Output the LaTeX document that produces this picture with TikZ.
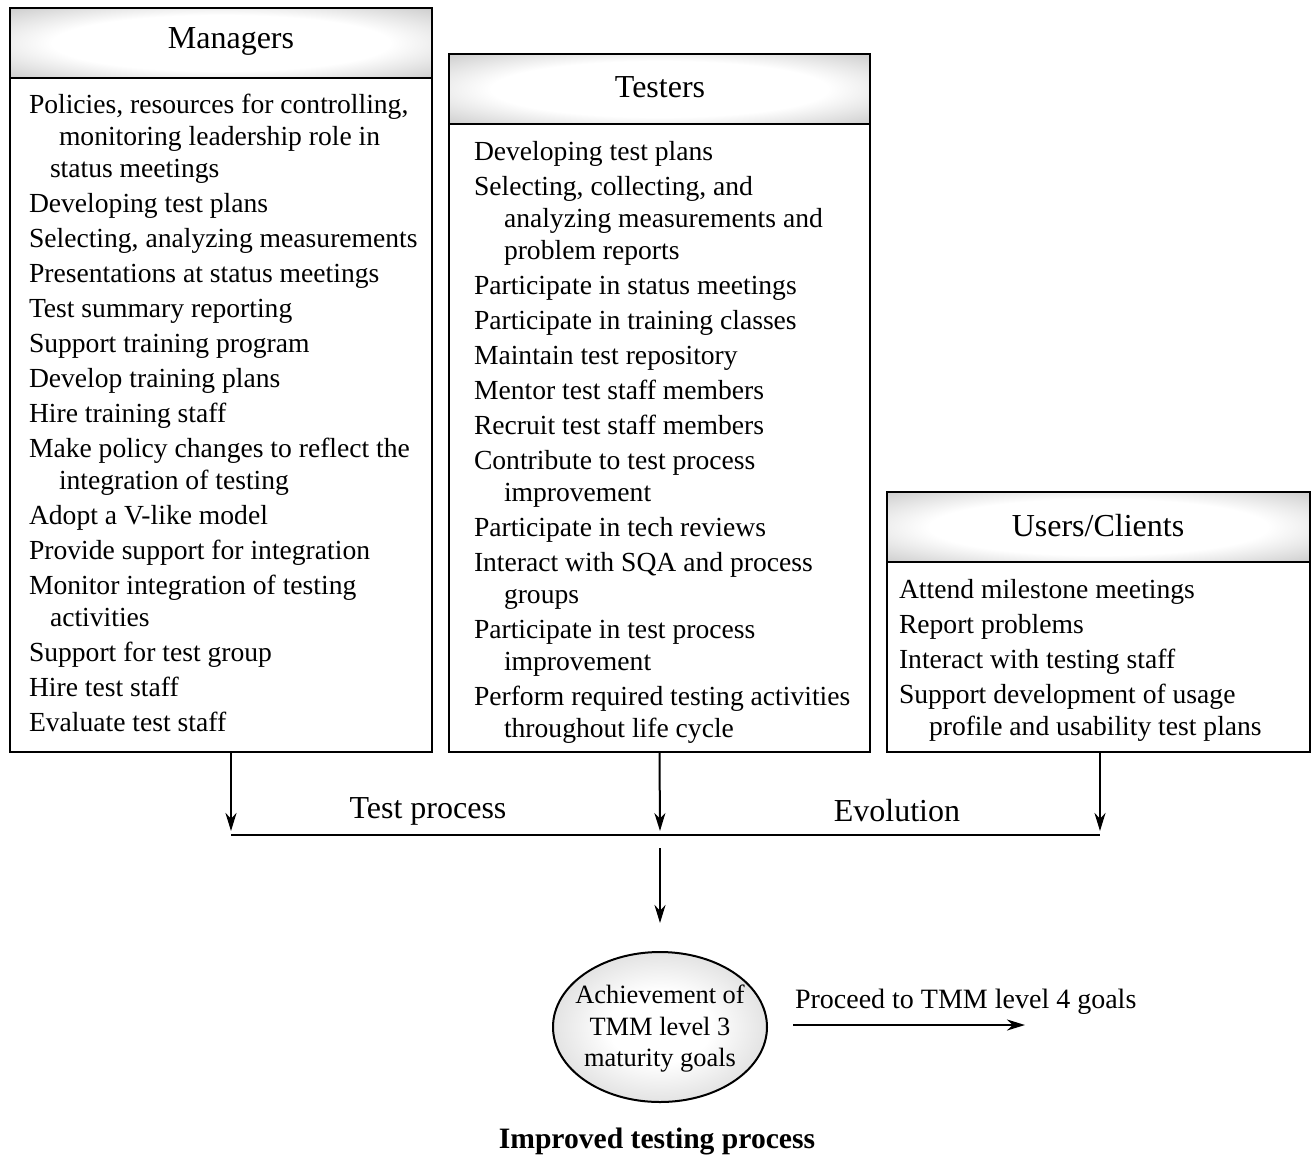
\documentclass[tikz,border=0pt]{standalone}
\usepackage{fontspec}
\setmainfont{Liberation Serif}
\usetikzlibrary{arrows.meta,shapes.geometric,fit}
\colorlet{glowedge}{black!38}
\colorlet{balledge}{black!32}
\pgfdeclareradialshading{headglow}{\pgfpoint{0bp}{0bp}}{color(0bp)=(white); color(20bp)=(white); color(50bp)=(glowedge); color(72bp)=(glowedge)}
\pgfdeclareradialshading{ballglow}{\pgfpoint{0bp}{0bp}}{color(0bp)=(white); color(12bp)=(white); color(50bp)=(balledge); color(72bp)=(balledge)}
\newcommand{\contline}{\hspace*{15pt}}
\newcommand{\shortcont}{\hspace*{10.5pt}}
\begin{document}
\begin{tikzpicture}[x=0.5pt,y=-0.5pt,
  every node/.style={inner sep=0pt,outer sep=0pt},
  frame/.style={draw=black,line width=1pt},
  headbar/.style={frame,shade,shading=headglow},
  headtext/.style={font=\fontsize{16}{19}\selectfont},
  listtext/.style={anchor=base west,font=\fontsize{13.8}{16}\selectfont},
  tag/.style={font=\fontsize{16}{19}\selectfont},
  flow/.style={line width=1pt,-{Stealth[length=9pt,width=5.5pt,inset=2.8pt]}},
  busline/.style={line width=1pt},
]
\useasboundingbox (0,0) rectangle (1312,1158);

% Managers column
\node[headbar, fit={(10,8) (432,78)}] (mgrhead) {};
\node[frame, fit={(10,78) (432,752)}] (mgr) {};
\node[headtext] (mgrtitle) at (231,41) {Managers};
\node[listtext] (mgrlist) at (29,113) {\begin{minipage}[t]{230pt}\raggedright\setlength{\parskip}{1.5pt}%
Policies, resources for controlling,\\
\contline monitoring leadership role in\\
\shortcont status meetings\par
Developing test plans\par
Selecting, analyzing measurements\par
Presentations at status meetings\par
Test summary reporting\par
Support training program\par
Develop training plans\par
Hire training staff\par
Make policy changes to reflect the\\
\contline integration of testing\par
Adopt a V-like model\par
Provide support for integration\par
Monitor integration of testing\\
\shortcont activities\par
Support for test group\par
Hire test staff\par
Evaluate test staff
\end{minipage}};

% Testers column
\node[headbar, fit={(449,54) (870,124)}] (tsthead) {};
\node[frame, fit={(449,124) (870,752)}] (tst) {};
\node[headtext] (tsttitle) at (660,87) {Testers};
\node[listtext] (tstlist) at (474,160) {\begin{minipage}[t]{230pt}\raggedright\setlength{\parskip}{1.5pt}%
Developing test plans\par
Selecting, collecting, and\\
\contline analyzing measurements and\\
\contline problem reports\par
Participate in status meetings\par
Participate in training classes\par
Maintain test repository\par
Mentor test staff members\par
Recruit test staff members\par
Contribute to test process\\
\contline improvement\par
Participate in tech reviews\par
Interact with SQA and process\\
\contline groups\par
Participate in test process\\
\contline improvement\par
Perform required testing activities\\
\contline throughout life cycle
\end{minipage}};

% Users/Clients column
\node[headbar, fit={(887,492) (1310,562)}] (usrhead) {};
\node[frame, fit={(887,562) (1310,752)}] (usr) {};
\node[headtext] (usrtitle) at (1098,526) {Users/Clients};
\node[listtext] (usrlist) at (899,598) {\begin{minipage}[t]{230pt}\raggedright\setlength{\parskip}{1.5pt}%
Attend milestone meetings\par
Report problems\par
Interact with testing staff\par
Support development of usage\\
\contline profile and usability test plans
\end{minipage}};

% Collecting bus
\coordinate (mgrout) at (231,752);
\coordinate (mgrin) at (231,831);
\coordinate (tstin) at (660,831);
\coordinate (usrin) at (1100,831);
\coordinate (busL) at (231,835);
\coordinate (busR) at (1100,835);
\coordinate (busout) at (660,848);
\coordinate (goalin) at (660,923);

\draw[flow] (mgrout) -- (mgrin);
\draw[flow] (tst.south) -- (tstin);
\draw[flow] (usr.south -| usrin) -- (usrin);
\draw[busline] (busL) -- (busR);
\node[tag] (tptag) at (428,811) {Test process};
\node[tag] (evtag) at (897,811) {Evolution};
\draw[flow] (busout) -- (goalin);

% Goal
\node[ellipse, frame, shade, shading=ballglow, minimum width=107pt, minimum height=75pt] (goal) at (660,1027) {};
\node[align=center, font=\fontsize{13.2}{15.75}\selectfont] (goaltext) at (660,1029) {Achievement of\\TMM level 3\\maturity goals};
\node[font=\bfseries\fontsize{14.8}{18}\selectfont] (goalcap) at (657,1141) {Improved testing process};

% Next level
\coordinate (nextL) at (793,1025);
\coordinate (nextR) at (1025,1025);
\draw[flow] (nextL) -- (nextR);
\node[anchor=west, font=\fontsize{14}{17}\selectfont] (nexttext) at (795,1002) {Proceed to TMM level 4 goals};
\end{tikzpicture}
\end{document}
